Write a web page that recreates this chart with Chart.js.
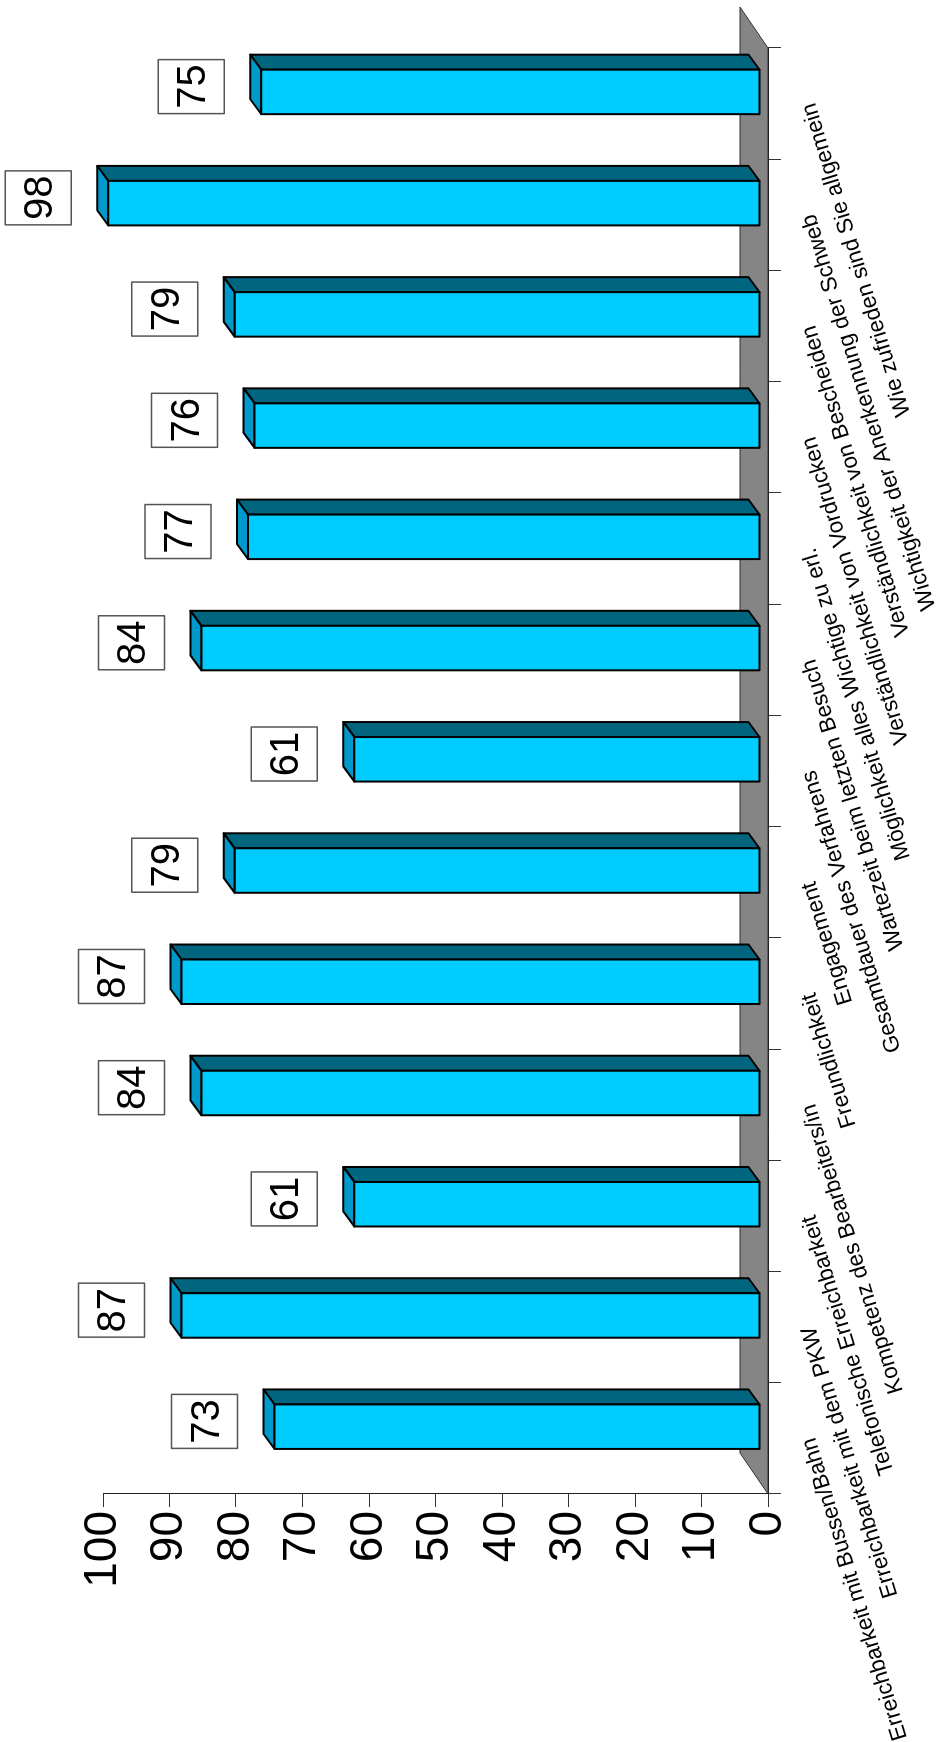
<!DOCTYPE html>
<html>
<head>
<meta charset="utf-8">
<script src="https://cdn.jsdelivr.net/npm/chart.js@4"></script>
<style>
  html, body { margin: 0; padding: 0; background: #fff; overflow: hidden; }
  /* chart is drawn as a normal column chart, then turned a quarter left */
  #wrap {
    position: absolute; left: 0; top: 0; width: 1742px; height: 938px;
    transform-origin: 0 0; transform: translate(0, 1742px) rotate(-90deg);
  }
</style>
</head>
<body>
<div id="wrap"><canvas id="chart" width="1742" height="938"></canvas></div>
<script>
const categories = [
  "Erreichbarkeit mit Bussen/Bahn",
  "Erreichbarkeit mit dem PKW",
  "Telefonische Erreichbarkeit",
  "Kompetenz des Bearbeiters/in",
  "Freundlichkeit",
  "Engagement",
  "Gesamtdauer des Verfahrens",
  "Wartezeit beim letzten Besuch",
  "Möglichkeit alles Wichtige zu erl.",
  "Verständlichkeit von Vordrucken",
  "Verständlichkeit von Bescheiden",
  "Wichtigkeit der Anerkennung der Schweb",
  "Wie zufrieden sind Sie allgemein"
];
const values = [73, 87, 61, 84, 87, 79, 61, 84, 77, 76, 79, 98, 75];
const valueTicks = [0, 10, 20, 30, 40, 50, 60, 70, 80, 90, 100];

// 3D look
const FLOOR = { du: 41, dv: -28 };
const BAR_SHIFT = { du: 11.7, dv: -8 };
const BAR_DEPTH = { du: 15, dv: -11 };
const FONT = "'Liberation Sans', Arial, sans-serif";

function poly(ctx, pts, fill) {
  ctx.beginPath();
  ctx.moveTo(pts[0][0], pts[0][1]);
  for (let i = 1; i < pts.length; i++) ctx.lineTo(pts[i][0], pts[i][1]);
  ctx.closePath();
  ctx.fillStyle = fill;
  ctx.fill();
  ctx.stroke();
}

const floorPlugin = {
  id: "floor",
  beforeDraw(chart) {
    const ctx = chart.ctx;
    const xs = chart.scales.x;
    const base = chart.scales.y.getPixelForValue(0);
    ctx.save();
    ctx.strokeStyle = "#333";
    ctx.lineWidth = 1;
    poly(ctx, [
      [xs.left, base],
      [xs.right, base],
      [xs.right + FLOOR.du, base + FLOOR.dv],
      [xs.left + FLOOR.du, base + FLOOR.dv]
    ], "#858585");
    ctx.restore();
  }
};

const bar3dPlugin = {
  id: "bar3d",
  afterDatasetsDraw(chart) {
    const ctx = chart.ctx;
    const meta = chart.getDatasetMeta(0);
    ctx.save();
    ctx.lineJoin = "round";
    meta.data.forEach((bar, i) => {
      const { x, y, base, width } = bar.getProps(["x", "y", "base", "width"], true);
      const l = x - width / 2 + BAR_SHIFT.du, r = x + width / 2 + BAR_SHIFT.du;
      const t = y + BAR_SHIFT.dv, b = base + BAR_SHIFT.dv;
      const du = BAR_DEPTH.du, dv = BAR_DEPTH.dv;
      ctx.strokeStyle = "#000";
      ctx.lineWidth = 2;
      poly(ctx, [[r, t], [r + du, t + dv], [r + du, b + dv], [r, b]], "#006680");
      poly(ctx, [[l, t], [l + du, t + dv], [r + du, t + dv], [r, t]], "#0099cc");
      poly(ctx, [[l, t], [r, t], [r, b], [l, b]], "#00ccff");

      // value box
      const cx = x + 17, bottom = y - 45, bw = 54, bh = 66;
      ctx.fillStyle = "#fff";
      ctx.fillRect(cx - bw / 2, bottom - bh, bw, bh);
      ctx.strokeStyle = "#555";
      ctx.lineWidth = 1.5;
      ctx.strokeRect(cx - bw / 2, bottom - bh, bw, bh);
      ctx.fillStyle = "#000";
      ctx.font = "40px " + FONT;
      ctx.textAlign = "center";
      ctx.textBaseline = "alphabetic";
      ctx.fillText(String(values[i]), cx, bottom - bh / 2 + 14);
    });
    ctx.restore();
  }
};

new Chart(document.getElementById("chart"), {
  type: "bar",
  data: {
    labels: categories,
    datasets: [{
      data: values,
      backgroundColor: "rgba(0,0,0,0)",
      borderWidth: 0,
      categoryPercentage: 1,
      barPercentage: 0.4
    }]
  },
  options: {
    responsive: false,
    animation: false,
    devicePixelRatio: 1,
    layout: { padding: { top: 103, right: 48, left: 0, bottom: 0 } },
    plugins: { legend: { display: false }, tooltip: { enabled: false } },
    scales: {
      x: {
        offset: true,
        grid: { offset: true, drawOnChartArea: false, tickLength: 13, color: "#333" },
        border: { color: "#222", width: 1 },
        ticks: {
          autoSkip: false, minRotation: 17, maxRotation: 17, padding: 15,
          color: "#000", font: { family: FONT, size: 22.5 }
        },
        afterFit(s) { s.height = 170; s.paddingLeft = 0; s.paddingRight = 0; }
      },
      y: {
        min: valueTicks[0],
        max: valueTicks[valueTicks.length - 1],
        grid: { drawOnChartArea: false, tickLength: 13, color: "#333" },
        border: { color: "#222", width: 1 },
        ticks: {
          stepSize: valueTicks[1] - valueTicks[0], padding: 4,
          color: "#000", font: { family: FONT, size: 46 }
        },
        afterFit(s) { s.width = 248; s.paddingTop = 0; s.paddingBottom = 0; }
      }
    }
  },
  plugins: [floorPlugin, bar3dPlugin]
});
</script>
</body>
</html>
